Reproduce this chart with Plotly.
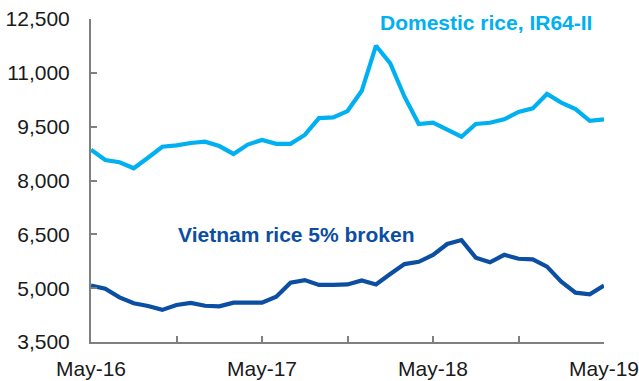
import plotly.graph_objects as go

# Monthly series, May-2016 to May-2019
months = [
    "May-16", "Jun-16", "Jul-16", "Aug-16", "Sep-16", "Oct-16", "Nov-16", "Dec-16",
    "Jan-17", "Feb-17", "Mar-17", "Apr-17", "May-17", "Jun-17", "Jul-17", "Aug-17",
    "Sep-17", "Oct-17", "Nov-17", "Dec-17", "Jan-18", "Feb-18", "Mar-18", "Apr-18",
    "May-18", "Jun-18", "Jul-18", "Aug-18", "Sep-18", "Oct-18", "Nov-18", "Dec-18",
    "Jan-19", "Feb-19", "Mar-19", "Apr-19", "May-19",
]

domestic_ir64 = [
    8860, 8570, 8510, 8340, 8635, 8940, 8980, 9045, 9080, 8960, 8740, 9000, 9130,
    9020, 9020, 9270, 9740, 9760, 9935, 10500, 11755, 11265, 10335, 9575, 9610,
    9415, 9220, 9575, 9610, 9705, 9910, 10010, 10410, 10170, 9990, 9665, 9705,
]

vietnam_5pct = [
    5070, 4985, 4745, 4580, 4505, 4395, 4530, 4590, 4510, 4495, 4595, 4595, 4595,
    4760, 5150, 5225, 5090, 5090, 5105, 5215, 5105, 5395, 5670, 5735, 5925, 6230,
    6340, 5850, 5720, 5930, 5820, 5805, 5600, 5180, 4875, 4830, 5070,
]

y_ticks = [3500, 5000, 6500, 8000, 9500, 11000, 12500]
x_ticks = months[::6]
x_ticktext = [m if m.startswith("May") else "" for m in x_ticks]

LIGHT_BLUE = "#00B0F0"
DARK_BLUE = "#0B4EA2"
AXIS_GREY = "#808080"
FONT = "Liberation Sans, Arial, sans-serif"

fig = go.Figure()
fig.add_trace(go.Scatter(
    x=months, y=domestic_ir64, mode="lines",
    line=dict(color=LIGHT_BLUE, width=4.2), name="Domestic rice, IR64-II",
))
fig.add_trace(go.Scatter(
    x=months, y=vietnam_5pct, mode="lines",
    line=dict(color=DARK_BLUE, width=4.2), name="Vietnam rice 5% broken",
))

fig.add_annotation(
    x="Aug-18", y=12500, yshift=-3, xshift=10, text="<b>Domestic rice, IR64-II</b>",
    showarrow=False, font=dict(family=FONT, size=21, color=LIGHT_BLUE),
    xanchor="center", yanchor="middle",
)
fig.add_annotation(
    x="Jul-17", y=6500, xshift=6, text="<b>Vietnam rice 5% broken</b>",
    showarrow=False, font=dict(family=FONT, size=21, color=DARK_BLUE),
    xanchor="center", yanchor="middle",
)

fig.update_layout(
    width=639, height=381,
    margin=dict(l=91, r=35, t=19, b=39, autoexpand=False),
    paper_bgcolor="white", plot_bgcolor="white",
    showlegend=False,
    font=dict(family=FONT, size=21, color="#1a1a1a"),
)
fig.update_xaxes(
    type="category", range=[0, len(months) - 1],
    tickvals=x_ticks, ticktext=x_ticktext,
    showline=True, linecolor=AXIS_GREY, linewidth=2,
    ticks="inside", ticklen=6, tickwidth=2, tickcolor=AXIS_GREY,
    showgrid=False, zeroline=False, tickangle=0,
    ticklabelstandoff=7, automargin=False,
)
fig.update_yaxes(
    range=[3500, 12500], tickvals=y_ticks, tickformat=",",
    showline=True, linecolor=AXIS_GREY, linewidth=2,
    ticks="inside", ticklen=6, tickwidth=2, tickcolor=AXIS_GREY,
    showgrid=False, zeroline=False,
    ticklabelstandoff=15, automargin=False,
)

fig.write_html("out.html")
